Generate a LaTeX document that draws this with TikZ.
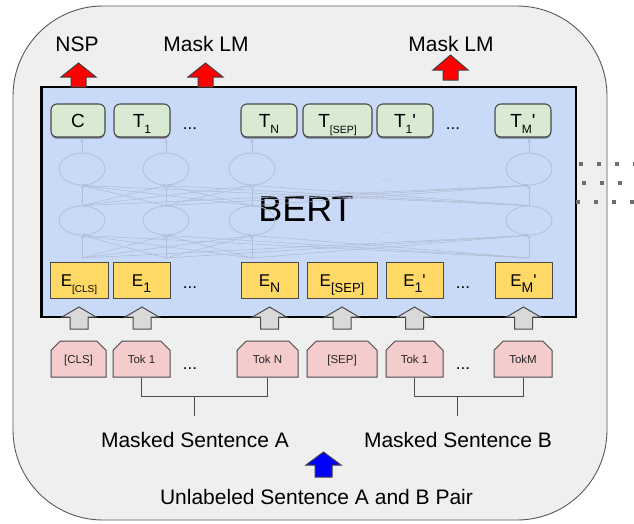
\documentclass[tikz,border=0pt]{standalone}
\usepackage{fontspec}
\setmainfont{Liberation Sans}
\usetikzlibrary{shapes.misc,shapes.geometric,arrows.meta,calc,shadows}
\definecolor{outerfill}{HTML}{EFEFEF}
\definecolor{outerline}{HTML}{595959}
\definecolor{bertfill}{HTML}{C9DAF8}
\definecolor{tfill}{HTML}{D9EAD3}
\definecolor{efill}{HTML}{FFD966}
\definecolor{kfill}{HTML}{F4CCCC}
\definecolor{boxline}{HTML}{4A4A4A}
\definecolor{gfill}{HTML}{D9D9D9}
\definecolor{netc}{RGB}{178,190,212}
\definecolor{dotc}{HTML}{6E6E6E}
\newcommand{\fs}[1]{\fontsize{#1}{#1}\selectfont}
\newcommand{\lsub}[2]{\raisebox{-6pt}{\fs{#1}#2}}
\newcommand{\prm}{\textquotesingle}
\newcommand{\blk}[7]{\draw[#1] (#2,#3) -- ({#2+#4},{#3+#6}) -- ({#2+#5},{#3+#6}) -- ({#2+#5},{#3+#7}) -- ({#2-#5},{#3+#7}) -- ({#2-#5},{#3+#6}) -- ({#2-#4},{#3+#6}) -- cycle;}
\begin{document}
\begin{tikzpicture}[x=1pt,y=-1pt,
  outerbox/.style={draw=outerline, fill=outerfill, line width=0.9pt, rounded corners=90pt},
  bertbox/.style={draw=black, fill=bertfill, line width=2.6pt, inner sep=0pt},
  tbox/.style={draw=boxline, fill=tfill, rounded corners=6pt, line width=1.1pt, minimum height=33pt, text height=14pt, text depth=0pt, inner sep=0pt, font=\fs{19},
    drop shadow={shadow xshift=0pt, shadow yshift=-1.6pt, opacity=0.45, fill=black}},
  ebox/.style={draw=boxline, fill=efill, line width=1pt, minimum height=36pt, text height=12pt, text depth=0pt, inner sep=0pt, font=\fs{17}},
  tok/.style={chamfered rectangle, chamfered rectangle corners={north west,north east}, chamfered rectangle xsep=5pt, chamfered rectangle ysep=5pt,
    draw=boxline, fill=kfill, line width=1pt, minimum height=36pt, text height=8.5pt, text depth=0pt, inner sep=0pt, font=\fs{11.5}, text=black!85},
  netell/.style={draw=netc, line width=0.8pt, ellipse, inner sep=0pt},
  netln/.style={draw=netc, line width=0.6pt, -{Stealth[length=3.5pt,width=3pt]}},
  garrow/.style={draw=boxline, fill=gfill, line width=1pt, line join=miter},
  rarrow/.style={draw=black!75, fill=red, line width=1pt, line join=miter},
  barrow/.style={draw=black!75, fill=blue, line width=1pt, line join=miter},
  bracket/.style={draw=black!70, line width=1pt},
  lbl/.style={font=\fs{21}, inner sep=0pt, anchor=base},
  dotsl/.style={font=\fs{17}, inner sep=0pt, anchor=base},
  netdots/.style={font=\fs{11}, inner sep=0pt, anchor=base, text=netc}
]
\useasboundingbox (0,0) rectangle (634,523);
\fill[white] (0,0) rectangle (634,523);
% outer rounded panel
\draw[outerbox] (13,6) rectangle (607,520);
% BERT box
\node[bertbox, minimum width=534.5pt, minimum height=230pt] (bert) at (308.75,202) {};
\node[font=\fs{36}, inner sep=0pt, anchor=base] (bertlbl) at (306,221) {BERT};
% faint network
\foreach \k/\xx in {1/82,2/166,3/252,4/529}{
  \node[netell, minimum width=46pt, minimum height=32pt] (nU\k) at (\xx,169) {};
  \node[netell, minimum width=46pt, minimum height=29pt] (nL\k) at (\xx,220.5) {};
  \coordinate (nb\k) at (\xx,258);
  \coordinate (nt\k) at (\xx,139);
}
\foreach \a in {1,...,4}{
  \foreach \b in {1,...,4}{
    \draw[netln] (nb\a) -- (nL\b.south);
    \draw[netln] (nL\a.north) -- (nU\b.south);
  }
  \draw[netln] (nU\a.north) -- (nt\a);
}
\node[netdots] (nd1) at (386,181) {...};
\node[netdots] (nd2) at (386,233) {...};
% T row
\node[tbox, minimum width=54pt] (tC)   at (78,120.5)  {C};
\node[tbox, minimum width=56pt] (tT1)  at (142,120.5) {T\lsub{12}{1}};
\node[tbox, minimum width=56pt] (tTN)  at (269,120.5) {T\lsub{12}{N}};
\node[tbox, minimum width=69pt] (tSEP) at (337.5,120.5) {T\lsub{10.5}{[SEP]}};
\node[tbox, minimum width=56pt] (tT1p) at (405,120.5) {T\lsub{12}{1}\prm};
\node[tbox, minimum width=56pt] (tTM)  at (523,120.5) {T\lsub{12}{M}\prm};
\node[dotsl] (td1) at (190,129) {...};
\node[dotsl] (td2) at (453,129) {...};
% E row
\node[ebox, minimum width=58pt] (eCLS) at (79,280)    {E\lsub{10}{[CLS]}};
\node[ebox, minimum width=57pt] (eE1)  at (141.5,280) {E\lsub{14}{1}};
\node[ebox, minimum width=57pt] (eEN)  at (269.5,280) {E\lsub{14}{N}};
\node[ebox, minimum width=70pt] (eSEP) at (342,280)   {E\lsub{13}{[SEP]}};
\node[ebox, minimum width=57pt] (eE1p) at (414.5,280) {E\lsub{14}{1}\prm};
\node[ebox, minimum width=57pt] (eEM)  at (523.5,280) {E\lsub{14}{M}\prm};
\node[dotsl] (ed1) at (190,288) {...};
\node[dotsl] (ed2) at (463,288) {...};
% token row
\node[tok, minimum width=55pt] (kCLS) at (78.5,359)  {[CLS]};
\node[tok, minimum width=57pt] (kT1)  at (141.5,359) {Tok 1};
\node[tok, minimum width=61pt] (kTN)  at (267.5,359) {Tok N};
\node[tok, minimum width=70pt] (kSEP) at (342,359)   {[SEP]};
\node[tok, minimum width=57pt] (kT1p) at (414.5,359) {Tok 1};
\node[tok, minimum width=58pt] (kTM)  at (523,359)   {TokM};
\node[dotsl] (kd1) at (190,369) {...};
\node[dotsl] (kd2) at (463,369) {...};
% gray input arrows
\foreach \xx in {79,142,269.5,342,414.5,523.5}{\blk{garrow}{\xx}{307}{17}{9}{10}{22}}
% red output arrows
\blk{rarrow}{78.5}{63}{17.5}{7.5}{14}{24}
\blk{rarrow}{205.5}{63}{17.5}{7.5}{14}{24}
\blk{rarrow}{450.5}{55}{17.5}{7.5}{15}{25}
% blue arrow
\blk{barrow}{323.5}{452}{17.5}{8.5}{13}{25}
% brackets
\coordinate (jA) at (194,396);
\coordinate (sA) at (194,416);
\coordinate (jB) at (457.5,396);
\coordinate (sB) at (457.5,416);
\draw[bracket] (kT1.south) -- (kT1.south |- jA) -| (kTN.south);
\draw[bracket] (jA) -- (sA);
\draw[bracket] (kT1p.south) -- (kT1p.south |- jB) -| (kTM.south);
\draw[bracket] (jB) -- (sB);
% labels
\node[lbl] (nsp)  at (77,51)  {NSP};
\node[lbl] (mlm1) at (206,51) {Mask LM};
\node[lbl] (mlm2) at (451,51) {Mask LM};
\node[lbl] (msa)  at (195,447) {Masked Sentence A};
\node[lbl] (msb)  at (458,447) {Masked Sentence B};
\node[lbl] (unl)  at (316.5,504) {Unlabeled Sentence A and B Pair};
% dotted continuation on the right
\foreach \xx in {581,599,617,635}{\fill[dotc] (\xx-2,162) rectangle (\xx+2,166);}
\foreach \xx in {584,602,620}{\fill[dotc] (\xx-2,181) rectangle (\xx+2,185);}
\foreach \xx in {578,596,614,632}{\fill[dotc] (\xx-2,200) rectangle (\xx+2,204);}
\end{tikzpicture}
\end{document}
